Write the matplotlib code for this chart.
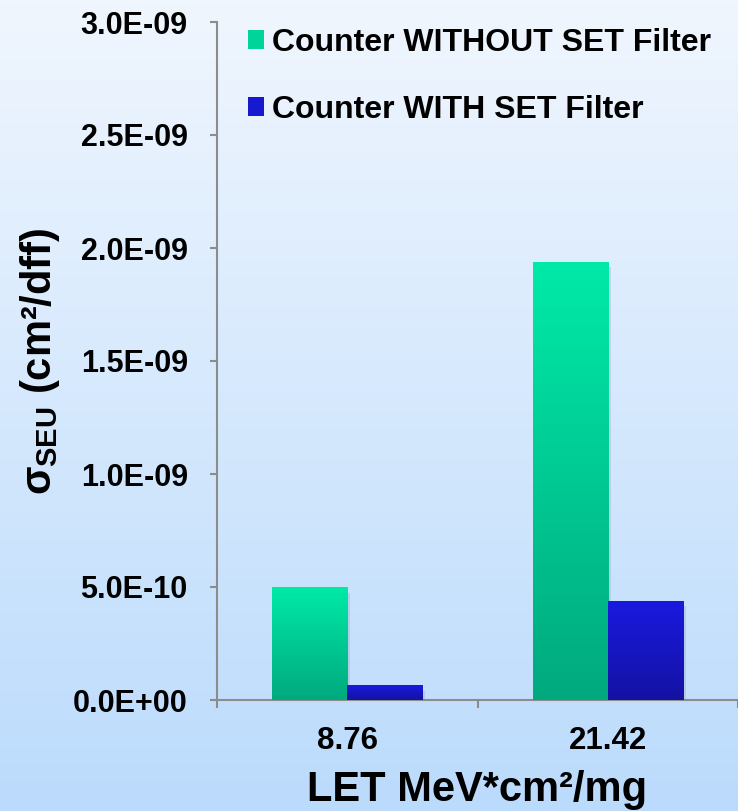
import numpy as np
import matplotlib
matplotlib.use("Agg")
import matplotlib.pyplot as plt
from matplotlib.colors import LinearSegmentedColormap
from matplotlib.patches import Patch

plt.rcParams['font.family'] = ['Liberation Sans', 'DejaVu Sans']
plt.rcParams['font.weight'] = 'bold'
plt.rcParams['mathtext.fontset'] = 'custom'
plt.rcParams['mathtext.rm'] = 'Liberation Sans:bold'
plt.rcParams['mathtext.it'] = 'Liberation Sans:bold'
plt.rcParams['mathtext.bf'] = 'Liberation Sans:bold'

# data
categories = ['8.76', '21.42']
without_filter = [5.0e-10, 1.94e-09]
with_filter = [6.5e-11, 4.4e-10]
series_names = ['Counter WITHOUT SET Filter', 'Counter WITH SET Filter']
yticks = [0, 5e-10, 1e-9, 1.5e-9, 2e-9, 2.5e-9, 3e-9]
ytick_labels = ['0.0E+00', '5.0E-10', '1.0E-09', '1.5E-09', '2.0E-09', '2.5E-09', '3.0E-09']

green_cmap = LinearSegmentedColormap.from_list('g', ['#00a97e', '#00eaa8'])
blue_cmap = LinearSegmentedColormap.from_list('b', ['#1412a2', '#1a1ae0'])

fig = plt.figure(figsize=(7.38, 8.11), dpi=100)

# background gradient
bg = fig.add_axes([0, 0, 1, 1], zorder=-1)
bg_cmap = LinearSegmentedColormap.from_list('bg', ['#bbdbfc', '#f0f6fe'])
bg.imshow(np.linspace(0, 1, 256).reshape(-1, 1), aspect='auto', cmap=bg_cmap,
          origin='lower', extent=[0, 1, 0, 1])
bg.axis('off')

ax = fig.add_axes([217 / 738, 111 / 811, 521 / 738, 678 / 811])
ax.set_facecolor('none')

x = np.arange(len(categories))
w = 0.288
bars1 = ax.bar(x - w / 2, without_filter, w, color='#00c890', zorder=3)
bars2 = ax.bar(x + w / 2, with_filter, w, color='#1818cc', zorder=3)

grad = np.linspace(0, 1, 256).reshape(-1, 1)
for bars, cm in ((bars1, green_cmap), (bars2, blue_cmap)):
    for b in bars:
        bx, by = b.get_x(), b.get_y()
        bw, bh = b.get_width(), b.get_height()
        # soft shadow
        ax.bar(bx + bw / 2 + 0.012, bh, bw, bottom=-2.5e-11, color='#7f95b0',
               alpha=0.25, zorder=2, linewidth=0)
        im = ax.imshow(grad, aspect='auto', cmap=cm, origin='lower',
                       extent=[bx, bx + bw, by, by + bh], zorder=4)
        im.set_clip_path(b)

ax.set_xlim(-0.5, 1.5)
ax.set_ylim(0, 3e-9)
ax.set_yticks(yticks)
ax.set_yticklabels(ytick_labels, fontsize=22, fontweight='bold')
ax.set_xticks([-0.5, 0.5, 1.5])
ax.set_xticklabels([])
ax.set_xticks(x, minor=True)
ax.set_xticklabels(categories, minor=True, fontsize=22.5, fontweight='bold')
ax.tick_params(axis='x', which='minor', length=0, pad=19)
ax.tick_params(axis='x', which='major', length=6, width=1.5, color='#8c8c8c')
ax.tick_params(axis='y', length=5, width=1.5, color='#8c8c8c', pad=16)

for s in ('top', 'right'):
    ax.spines[s].set_visible(False)
for s in ('left', 'bottom'):
    ax.spines[s].set_color('#8c8c8c')
    ax.spines[s].set_linewidth(1.5)

ax.set_xlabel('LET MeV*cm²/mg', fontsize=30, fontweight='bold', labelpad=10)
ax.set_ylabel(r'$\sigma_{SEU}$ (cm²/dff)', fontsize=30, fontweight='bold', labelpad=8)

handles = [Patch(facecolor='#00d49a'), Patch(facecolor='#1818d0')]
fig.legend(handles, series_names, loc='upper left', bbox_to_anchor=(248 / 738, 1 - 28 / 811),
           frameon=False, handlelength=0.5, handleheight=0.55,
           handletextpad=0.25, labelspacing=1.15, borderpad=0, borderaxespad=0,
           prop={'weight': 'bold', 'size': 23})

fig.savefig('out.png', dpi=100)
